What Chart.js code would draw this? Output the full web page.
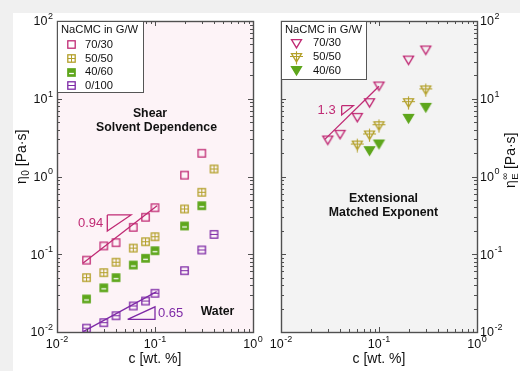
<!DOCTYPE html>
<html><head><meta charset="utf-8">
<script src="https://cdn.jsdelivr.net/npm/chart.js@4.4.0/dist/chart.umd.min.js"></script>
<style>
html,body{margin:0;padding:0;background:#f0f0f0;width:520px;height:371px;overflow:hidden}
#bg{position:absolute;left:13px;top:13px;width:507px;height:358px;background:#fff}
canvas{position:absolute;left:0;top:0}
</style></head><body>
<div id="bg"></div>
<canvas id="c1" width="520" height="371" style="width:520px;height:371px"></canvas>
<canvas id="c2" width="520" height="371" style="width:520px;height:371px"></canvas>
<script>
// ---------- DATA ----------
const seriesLabels = ['70/30','50/50','40/60','0/100'];
const legendTitle = 'NaCMC in G/W';
// Shear (left panel)
const concShear   = [0.02, 0.03, 0.04, 0.06, 0.08, 0.1, 0.2, 0.3, 0.4];
const shear7030   = [0.084, 0.128, 0.141, 0.222, 0.299, 0.397, 1.04, 1.99, null];
const shear5050   = [0.050, 0.058, 0.079, 0.120, 0.145, 0.168, 0.382, 0.627, 1.25];
const shear4060   = [0.0266, 0.037, 0.050, 0.0727, 0.0887, 0.111, 0.231, 0.421, null];
const shear0100   = [0.0112, 0.0132, 0.0162, 0.0216, 0.025, 0.0315, 0.0615, 0.1135, 0.18];
const fitShear7030 = [[0.0185, 0.077], [0.105, 0.42]];
const fitShear0100 = [[0.0185, 0.0101], [0.104, 0.033]];
const slopeTri094  = [[0.0326, 0.32], [0.0569, 0.32], [0.0326, 0.199], [0.0326, 0.32]];
const slopeTri065  = [[0.0526, 0.01456], [0.1, 0.01456], [0.1, 0.0211], [0.0526, 0.01456]];
const slopeLabels  = ['0.94', '0.65', '1.3'];
// Extensional (right panel)
const concExt  = [0.03, 0.04, 0.06, 0.08, 0.1, 0.2, 0.3];
const ext7030  = [2.95, 3.49, 5.77, 8.9, 14.6, 31.5, 42.4];
const ext5050  = [null, null, 2.54, 3.42, 4.5, 8.9, 13.0];
const ext4060  = [null, null, null, 2.15, 2.62, 5.6, 7.76];
const fitExt7030 = [[0.028, 3.0], [0.1, 14.5]];
const slopeTri13 = [[0.0416, 8.14], [0.0547, 8.14], [0.0416, 6.18], [0.0416, 8.14]];
// ticks
const xTickExp = [-2, -1, 0];
const yTickExp = [-2, -1, 0, 1, 2];

// ---------- STYLE ----------
const FF = '"Liberation Sans", Arial, Helvetica, sans-serif';
const C_MAG = '#c02a74', C_OLV = '#b3a02a', C_GRN = '#5ea61c', C_PUR = '#7e2aa6';
const FRAME = '#505050';

function pts(xs, ys){ const o=[]; xs.forEach((x,i)=>{ if(ys[i]!=null) o.push({x:x,y:ys[i]}); }); return o; }
function pairs(a){ return a.map(p=>({x:p[0],y:p[1]})); }

function mk(kind, color){
  const S = 15, c = document.createElement('canvas'); c.width=S; c.height=S;
  const g = c.getContext('2d'); g.strokeStyle=color; g.fillStyle=color; g.lineWidth=1.3;
  const m = S/2;
  if (kind.startsWith('sq')) {
    const h = 3.7, x0 = m-h, y0 = m-h, w = 2*h;
    if (kind === 'sqhalf') {
      g.fillRect(x0-0.65, y0-0.65, w+1.3, w+1.3);
      g.strokeStyle = '#fff'; g.lineWidth = 1.3;
      g.beginPath(); g.moveTo(x0+1.3, m+1.0); g.lineTo(x0+w-1.3, m+1.0); g.stroke();
    } else {
      g.strokeRect(x0, y0, w, w);
      g.lineWidth = 1;
      if (kind === 'sqplus') {
        g.beginPath(); g.moveTo(m, y0); g.lineTo(m, y0+w); g.moveTo(x0, m); g.lineTo(x0+w, m); g.stroke();
      }
      if (kind === 'sqline') {
        g.beginPath(); g.moveTo(x0, m); g.lineTo(x0+w, m); g.stroke();
      }
    }
  } else {
    const hw = 5, top = m-3.8, bot = m+4.4;
    g.beginPath(); g.moveTo(m-hw, top); g.lineTo(m+hw, top); g.lineTo(m, bot); g.closePath();
    if (kind === 'trifill') { g.fill(); g.stroke(); }
    else g.stroke();
    if (kind === 'triplus') {
      g.lineWidth = 1.1;
      g.beginPath(); g.moveTo(m, top-2.5); g.lineTo(m, bot+2.5);
      g.moveTo(m-hw-1.5, m-1); g.lineTo(m+hw+1.5, m-1); g.stroke();
    }
  }
  return c;
}

function markerDs(label, data, img){
  return { label, data, pointStyle: img, pointRadius: 5, showLine:false, isSeries:true, order:0 };
}
function lineDs(data, color){
  return { data, showLine:true, borderColor:color, borderWidth:1.3, pointRadius:0, fill:false, order:1, tension:0 };
}

function pow10(ctx, e, x, y, align){
  ctx.font = '12.5px ' + FF; const bw = ctx.measureText('10').width;
  ctx.font = '9px ' + FF; const es = String(e); const ew = ctx.measureText(es).width;
  const tot = bw + ew + 0.5;
  let x0 = align==='center' ? x - tot/2 : (align==='right' ? x - tot : x);
  ctx.textAlign='left'; ctx.textBaseline='middle'; ctx.fillStyle='#111';
  ctx.font = '12.5px ' + FF; ctx.fillText('10', x0, y);
  ctx.font = '9px ' + FF; ctx.fillText(es, x0 + bw + 0.5, y - 5.5);
}

function drawFrameTicks(chart, ylabSide){
  const {ctx, chartArea:a, scales:{x,y}} = chart;
  ctx.save();
  ctx.strokeStyle = FRAME; ctx.lineWidth = 1;
  // x ticks (top & bottom)
  for (let e = xTickExp[0]; e < xTickExp[xTickExp.length-1]; e++) {
    for (let k = 1; k <= 9; k++) {
      const px = Math.round(x.getPixelForValue(k*Math.pow(10,e))) + 0.5;
      const L = k===1 ? 5 : 3;
      ctx.beginPath(); ctx.moveTo(px, a.bottom); ctx.lineTo(px, a.bottom-L);
      ctx.moveTo(px, a.top); ctx.lineTo(px, a.top+L); ctx.stroke();
    }
  }
  for (let e = yTickExp[0]; e < yTickExp[yTickExp.length-1]; e++) {
    for (let k = 1; k <= 9; k++) {
      const py = Math.round(y.getPixelForValue(k*Math.pow(10,e))) + 0.5;
      const L = k===1 ? 5 : 3;
      ctx.beginPath(); ctx.moveTo(a.left, py); ctx.lineTo(a.left+L, py);
      ctx.moveTo(a.right, py); ctx.lineTo(a.right-L, py); ctx.stroke();
    }
  }
  ctx.lineWidth = 1.4;
  ctx.strokeRect(Math.round(a.left)+0.5, Math.round(a.top)+0.5, Math.round(a.right-a.left), Math.round(a.bottom-a.top));
  // tick labels
  xTickExp.forEach(e => pow10(ctx, e, x.getPixelForValue(Math.pow(10,e)), a.bottom + 13, 'center'));
  yTickExp.forEach(e => {
    const py = y.getPixelForValue(Math.pow(10,e)) + 1;
    if (ylabSide === 'left') pow10(ctx, e, a.left - 4, py, 'right');
    else pow10(ctx, e, a.right + 3, py, 'left');
  });
  // x title
  ctx.fillStyle = '#111'; ctx.font = '14px ' + FF; ctx.textAlign='center'; ctx.textBaseline='middle';
  ctx.fillText('c [wt. %]', (a.left+a.right)/2, a.bottom + 27);
  ctx.restore();
}

function drawLegend(chart, box, rows, mx, tx){
  const {ctx} = chart;
  ctx.save();
  ctx.fillStyle = '#fff'; ctx.fillRect(box[0], box[1], box[2]-box[0], box[3]-box[1]);
  ctx.strokeStyle = '#555'; ctx.lineWidth = 1;
  ctx.strokeRect(box[0]+0.5, box[1]+0.5, box[2]-box[0], box[3]-box[1]);
  ctx.fillStyle = '#111'; ctx.font = '11.2px ' + FF; ctx.textAlign='left'; ctx.textBaseline='middle';
  ctx.fillText(legendTitle, box[0]+4, box[1]+9);
  const ser = chart.data.datasets.filter(d => d.isSeries);
  ser.forEach((d,i) => {
    const img = d.pointStyle;
    ctx.drawImage(img, Math.round(mx - img.width/2), Math.round(rows[i] - img.height/2));
    ctx.fillStyle = '#111'; ctx.font = '11.2px ' + FF;
    ctx.fillText(d.label, tx, rows[i]);
  });
  ctx.restore();
}

function boldText(ctx, lines){
  ctx.save(); ctx.fillStyle='#111'; ctx.font='bold 12.3px ' + FF; ctx.textAlign='center'; ctx.textBaseline='middle';
  lines.forEach(l => ctx.fillText(l[0], l[1], l[2]));
  ctx.restore();
}

const baseOpts = (pad) => ({
  responsive:false, animation:false, devicePixelRatio:1, events:[],
  layout:{padding:pad},
  plugins:{legend:{display:false}, tooltip:{enabled:false}},
  scales:{
    x:{type:'logarithmic', min:0.01, max:1, display:false},
    y:{type:'logarithmic', min:0.01, max:100, display:false}
  }
});

// ---------- LEFT: Shear ----------
const leftPlugin = {
  id:'leftDeco',
  beforeDatasetsDraw(chart){
    const {ctx, chartArea:a} = chart; ctx.save(); ctx.fillStyle='#fdf3f7';
    ctx.fillRect(a.left, a.top, a.right-a.left, a.bottom-a.top); ctx.restore();
  },
  afterDraw(chart){
    const {ctx, scales:{x,y}} = chart;
    drawFrameTicks(chart, 'left');
    drawLegend(chart, [57,21,143,92], [44.5,58.5,72,85.5], 71, 85);
    boldText(ctx, [['Shear',150,114],['Solvent Dependence',156.5,128],['Water',217.5,312]]);
    ctx.save(); ctx.font='13px ' + FF; ctx.textBaseline='middle';
    ctx.fillStyle = C_MAG; ctx.textAlign='right';
    ctx.fillText(slopeLabels[0], x.getPixelForValue(slopeTri094[0][0]) - 4,
      (y.getPixelForValue(slopeTri094[0][1]) + y.getPixelForValue(slopeTri094[2][1]))/2 + 0.5);
    ctx.fillStyle = C_PUR; ctx.textAlign='left';
    ctx.fillText(slopeLabels[1], x.getPixelForValue(slopeTri065[1][0]) + 3,
      (y.getPixelForValue(slopeTri065[1][1]) + y.getPixelForValue(slopeTri065[2][1]))/2 + 0.5);
    // y title
    ctx.fillStyle='#111'; ctx.translate(22, 184); ctx.rotate(-Math.PI/2); ctx.textAlign='left';
    ctx.font='14px ' + FF; ctx.fillText('η', 0, 0); let w = ctx.measureText('η').width;
    ctx.font='10px ' + FF; ctx.fillText('0', w+0.5, 4); w += ctx.measureText('0').width + 0.5;
    ctx.font='14px ' + FF; ctx.fillText(' [Pa·s]', w, 0);
    ctx.restore();
  }
};

new Chart(document.getElementById('c1'), {
  type:'scatter',
  data:{ datasets:[
    markerDs(seriesLabels[0], pts(concShear, shear7030), mk('sq', C_MAG)),
    markerDs(seriesLabels[1], pts(concShear, shear5050), mk('sqplus', C_OLV)),
    markerDs(seriesLabels[2], pts(concShear, shear4060), mk('sqhalf', C_GRN)),
    markerDs(seriesLabels[3], pts(concShear, shear0100), mk('sqline', C_PUR)),
    lineDs(pairs(fitShear7030), C_MAG),
    lineDs(pairs(slopeTri094), C_MAG),
    lineDs(pairs(fitShear0100), C_PUR),
    lineDs(pairs(slopeTri065), C_PUR)
  ]},
  options: baseOpts({left:57, right:267, top:21, bottom:39}),
  plugins:[leftPlugin]
});

// ---------- RIGHT: Extensional ----------
const rightPlugin = {
  id:'rightDeco',
  beforeDatasetsDraw(chart){
    const {ctx, chartArea:a} = chart; ctx.save(); ctx.fillStyle='#f3f3f3';
    ctx.fillRect(a.left, a.top, a.right-a.left, a.bottom-a.top); ctx.restore();
  },
  afterDraw(chart){
    const {ctx, scales:{x,y}} = chart;
    drawFrameTicks(chart, 'right');
    drawLegend(chart, [281,21,366,79], [43,57,70.5], 296, 313);
    boldText(ctx, [['Extensional',383.5,199],['Matched Exponent',383.5,213]]);
    ctx.save(); ctx.font='13px ' + FF; ctx.textBaseline='middle';
    ctx.fillStyle = C_MAG; ctx.textAlign='right';
    ctx.fillText(slopeLabels[2], x.getPixelForValue(slopeTri13[0][0]) - 6,
      (y.getPixelForValue(slopeTri13[0][1]) + y.getPixelForValue(slopeTri13[2][1]))/2 + 0.5);
    // y title
    ctx.fillStyle='#111'; ctx.translate(511, 188); ctx.rotate(-Math.PI/2); ctx.textAlign='left';
    ctx.font='14px ' + FF; ctx.fillText('η', 0, 0); let w = ctx.measureText('η').width;
    ctx.font='9.5px ' + FF; ctx.fillText('E', w+0.5, 4.5); ctx.fillText('∞', w+0.5, -5.5);
    w += Math.max(ctx.measureText('E').width, ctx.measureText('∞').width) + 0.5;
    ctx.font='14px ' + FF; ctx.fillText(' [Pa·s]', w, 0);
    ctx.restore();
  }
};

new Chart(document.getElementById('c2'), {
  type:'scatter',
  data:{ datasets:[
    markerDs(seriesLabels[0], pts(concExt, ext7030), mk('tri', C_MAG)),
    markerDs(seriesLabels[1], pts(concExt, ext5050), mk('triplus', C_OLV)),
    markerDs(seriesLabels[2], pts(concExt, ext4060), mk('trifill', C_GRN)),
    lineDs(pairs(fitExt7030), C_MAG),
    lineDs(pairs(slopeTri13), C_MAG)
  ]},
  options: baseOpts({left:281, right:43, top:21, bottom:39}),
  plugins:[rightPlugin]
});
</script>
</body></html>
